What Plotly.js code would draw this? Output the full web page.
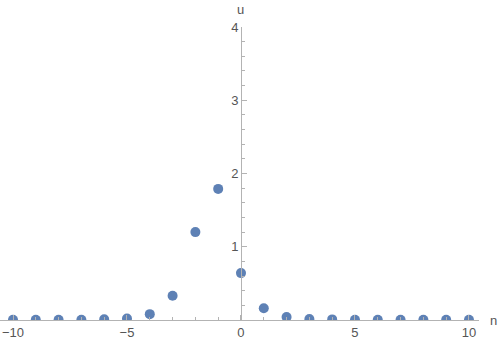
<!DOCTYPE html>
<html>
<head>
<meta charset="utf-8">
<script src="https://cdn.plot.ly/plotly-3.0.1.min.js"></script>
<style>
  html, body { margin: 0; padding: 0; background: #fff; }
  #plot { width: 500px; height: 345px; }
</style>
</head>
<body>
<div id="plot"></div>
<script>
// lattice sites and amplitudes
var nVals = [-10, -9, -8, -7, -6, -5, -4, -3, -2, -1, 0, 1, 2, 3, 4, 5, 6, 7, 8, 9, 10];
var uVals = [0.002, 0.002, 0.002, 0.003, 0.01, 0.02, 0.08, 0.33, 1.20, 1.79, 0.64, 0.16, 0.04, 0.012, 0.008, 0.004, 0.003, 0.002, 0.002, 0.002, 0.002];

var xTicks = [-10, -5, 0, 5, 10];
var yTicks = [1, 2, 3, 4];

var axisGray = "#b3b3b3";
var labelGray = "#555555";

var trace = {
    x: nVals,
    y: uVals,
    mode: "markers",
    type: "scatter",
    cliponaxis: true,
    marker: { color: "#5e81b5", size: 10 },
    hoverinfo: "skip"
};

var xRange = [-10.57, 10.44];

var layout = {
    width: 500,
    height: 345,
    margin: { l: 0, r: 21, t: 27, b: 25 },
    paper_bgcolor: "#ffffff",
    plot_bgcolor: "#ffffff",
    showlegend: false,
    font: { family: "Liberation Sans, Arial, sans-serif", size: 13, color: labelGray },
    xaxis: {
        range: xRange,
        showgrid: false,
        zeroline: false,
        showline: true,
        linecolor: axisGray,
        linewidth: 1,
        ticks: "inside",
        ticklen: 5,
        tickcolor: axisGray,
        tickvals: xTicks,
        ticktext: ["\u221210", "\u22125", "0", "5", "10"],
        minor: { dtick: 1, ticks: "inside", ticklen: 3, tickcolor: axisGray },
        tickfont: { size: 13, color: labelGray }
    },
    yaxis: {
        range: [0, 4],
        anchor: "free",
        position: (0 - xRange[0]) / (xRange[1] - xRange[0]),
        showgrid: false,
        zeroline: false,
        showline: true,
        linecolor: axisGray,
        linewidth: 1,
        ticks: "inside",
        ticklen: 5,
        tickcolor: axisGray,
        tickvals: yTicks,
        minor: { dtick: 0.2, ticks: "inside", ticklen: 3, tickcolor: axisGray },
        tickfont: { size: 13, color: labelGray }
    },
    annotations: [
        { text: "u", xref: "x", x: 0, yref: "paper", y: 1, yanchor: "bottom", xanchor: "center",
          yshift: 8, showarrow: false, font: { size: 13, color: labelGray } },
        { text: "n", xref: "paper", x: 1, yref: "y", y: 0, xanchor: "left", yanchor: "middle",
          xshift: 9, showarrow: false, font: { size: 13, color: labelGray } }
    ]
};

Plotly.newPlot("plot", [trace], layout, { displayModeBar: false, staticPlot: true });
</script>
</body>
</html>
